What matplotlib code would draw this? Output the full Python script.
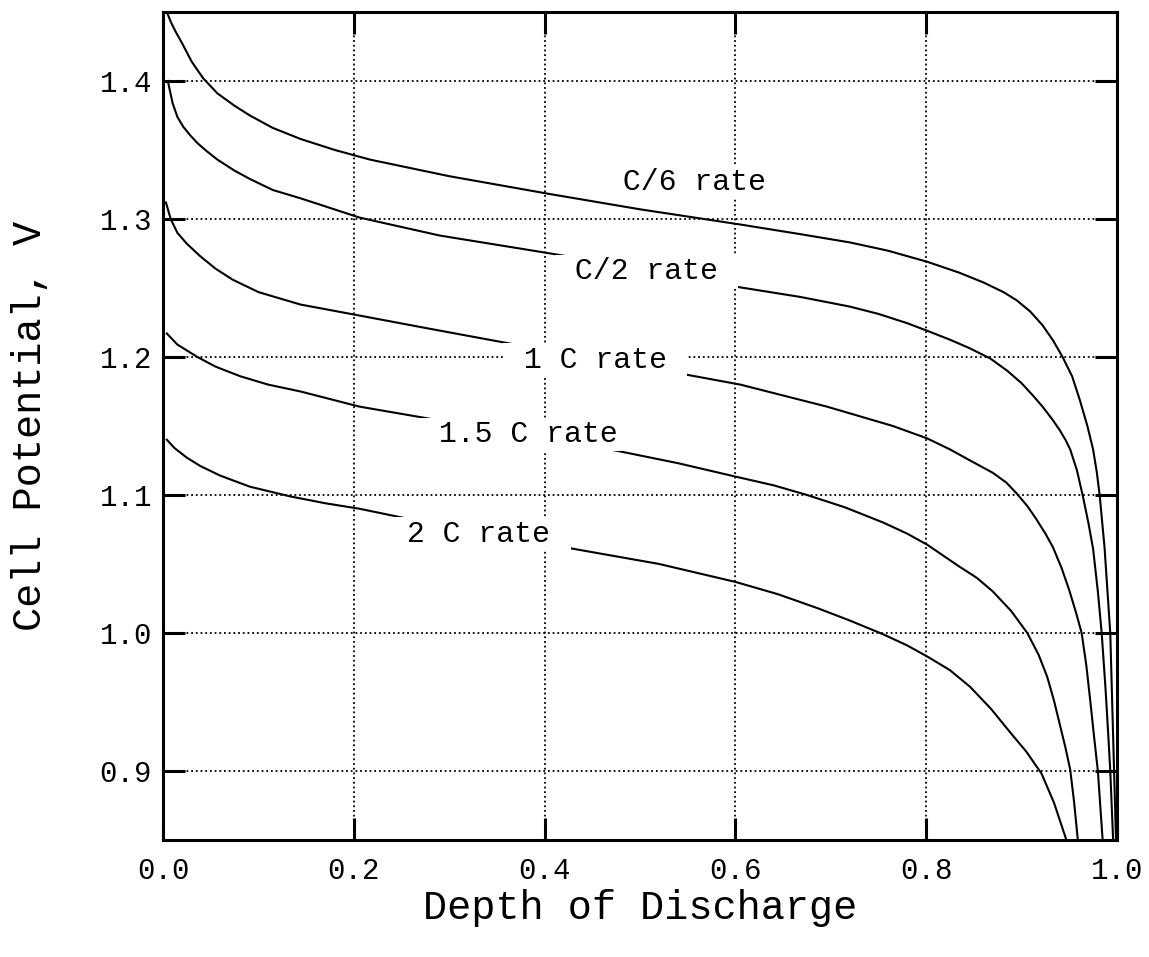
import matplotlib
matplotlib.use("Agg")
import matplotlib.pyplot as plt

# discharge curves: depth of discharge vs. cell potential (V)
dod_c6 = [0.004, 0.008, 0.013, 0.021, 0.030, 0.042, 0.057, 0.075, 0.091, 0.115, 0.144,
          0.18, 0.217, 0.30, 0.406, 0.50, 0.605, 0.668, 0.72, 0.76, 0.801, 0.835, 0.860,
          0.881, 0.895, 0.909, 0.922, 0.933, 0.943, 0.953, 0.961, 0.969, 0.975, 0.979,
          0.982, 0.987, 0.990, 0.993, 0.995, 0.997, 0.999]
v_c6 = [1.450, 1.443, 1.436, 1.426, 1.414, 1.402, 1.391, 1.382, 1.375, 1.366, 1.358,
        1.350, 1.343, 1.331, 1.318, 1.307, 1.296, 1.289, 1.283, 1.277, 1.269, 1.261, 1.254,
        1.247, 1.241, 1.233, 1.223, 1.212, 1.200, 1.186, 1.169, 1.150, 1.133, 1.116,
        1.099, 1.062, 1.031, 1.000, 0.950, 0.900, 0.850]

dod_c2 = [0.005, 0.010, 0.015, 0.021, 0.028, 0.036, 0.046, 0.057, 0.075, 0.091, 0.115,
          0.144, 0.175, 0.206, 0.290, 0.406, 0.50, 0.600, 0.668, 0.720, 0.75, 0.78, 0.801,
          0.825, 0.845, 0.867, 0.885, 0.900, 0.912, 0.922, 0.932, 0.940, 0.946, 0.951,
          0.958, 0.964, 0.970, 0.975, 0.980, 0.984, 0.988, 0.991, 0.993, 0.996]
v_c2 = [1.400, 1.384, 1.374, 1.367, 1.361, 1.355, 1.349, 1.343, 1.335, 1.329, 1.321,
        1.315, 1.308, 1.301, 1.288, 1.275, 1.264, 1.251, 1.2435, 1.2365, 1.2312, 1.2245,
        1.219, 1.2125, 1.2065, 1.199, 1.190, 1.181, 1.172, 1.164, 1.155, 1.147, 1.140,
        1.133, 1.118, 1.100, 1.080, 1.061, 1.030, 1.000, 0.960, 0.925, 0.900, 0.850]

dod_1c = [0.003, 0.008, 0.015, 0.025, 0.039, 0.055, 0.073, 0.10, 0.144, 0.206, 0.283,
          0.377, 0.46, 0.550, 0.605, 0.696, 0.765, 0.801, 0.825, 0.846, 0.870, 0.884,
          0.895, 0.906, 0.915, 0.925, 0.933, 0.942, 0.950, 0.957, 0.963, 0.968, 0.972,
          0.976, 0.980, 0.985]
v_1c = [1.312, 1.300, 1.290, 1.282, 1.273, 1.264, 1.256, 1.247, 1.238, 1.230, 1.220,
        1.208, 1.198, 1.187, 1.180, 1.164, 1.150, 1.141, 1.133, 1.125, 1.116, 1.109,
        1.101, 1.092, 1.083, 1.072, 1.062, 1.047, 1.031, 1.015, 1.000, 0.976, 0.951,
        0.925, 0.900, 0.850]

dod_15c = [0.004, 0.015, 0.036, 0.055, 0.081, 0.11, 0.144, 0.206, 0.290, 0.38, 0.476,
           0.54, 0.602, 0.64, 0.675, 0.715, 0.755, 0.78, 0.801, 0.835, 0.853, 0.870,
           0.889, 0.906, 0.918, 0.927, 0.934, 0.940, 0.946, 0.951, 0.955, 0.959]
v_15c = [1.217, 1.209, 1.200, 1.193, 1.186, 1.180, 1.175, 1.164, 1.154, 1.143, 1.132,
         1.123, 1.113, 1.107, 1.100, 1.091, 1.080, 1.072, 1.064, 1.048, 1.040, 1.030,
         1.016, 1.000, 0.984, 0.968, 0.951, 0.934, 0.917, 0.901, 0.878, 0.850]

dod_2c = [0.004, 0.012, 0.025, 0.039, 0.06, 0.091, 0.133, 0.17, 0.206, 0.248, 0.33,
          0.43, 0.52, 0.60, 0.645, 0.686, 0.72, 0.755, 0.78, 0.801, 0.825, 0.846, 0.868,
          0.888, 0.905, 0.921, 0.934, 0.947]
v_2c = [1.140, 1.134, 1.127, 1.121, 1.114, 1.106, 1.099, 1.094, 1.090, 1.084, 1.073,
        1.061, 1.050, 1.037, 1.028, 1.018, 1.009, 0.999, 0.991, 0.983, 0.973, 0.961, 0.945,
        0.928, 0.914, 0.898, 0.877, 0.850]

curves = [(dod_c6, v_c6), (dod_c2, v_c2), (dod_1c, v_1c), (dod_15c, v_15c), (dod_2c, v_2c)]

# curve labels and where they sit
label_text = ["C/6 rate", "C/2 rate", "1 C rate", "1.5 C rate", "2 C rate"]
label_x = [0.557, 0.507, 0.453, 0.383, 0.331]
label_y = [1.327, 1.262, 1.198, 1.144, 1.072]

x_ticks = [0.0, 0.2, 0.4, 0.6, 0.8, 1.0]
x_ticklabels = ["0.0", "0.2", "0.4", "0.6", "0.8", "1.0"]
y_ticks = [0.9, 1.0, 1.1, 1.2, 1.3, 1.4]
y_ticklabels = ["0.9", "1.0", "1.1", "1.2", "1.3", "1.4"]

plt.rcParams['font.family'] = ['Liberation Mono', 'DejaVu Sans Mono']

fig = plt.figure(figsize=(11.49, 9.57), dpi=100)
ax = fig.add_axes([0.1419, 0.1223, 0.8302, 0.8652])

for x, y in curves:
    ax.plot(x, y, color='black', lw=1.5, zorder=2, solid_joinstyle='round')

# white boxes behind the labels break the curves and grid lines
for txt, tx, ty in zip(label_text, label_x, label_y):
    ax.text(tx, ty, " " + txt + " ", fontsize=21.5, ha='center', va='center', zorder=3,
            bbox=dict(boxstyle='square,pad=0.08', facecolor='white', edgecolor='none'))

ax.set_xlim(0, 1.0)
ax.set_ylim(0.85, 1.45)
ax.set_xticks(x_ticks)
ax.set_xticklabels(x_ticklabels)
ax.set_yticks(y_ticks)
ax.set_yticklabels(y_ticklabels)

ax.grid(True, color='black', linestyle=(0, (1, 1.6)), lw=1.3)
ax.tick_params(direction='in', length=16, width=2.2, labelsize=21,
               top=True, right=True)
ax.tick_params(axis='x', pad=12)
ax.tick_params(axis='y', pad=8)
for s in ax.spines.values():
    s.set_linewidth(2.2)

ax.set_xlabel("Depth of Discharge", fontsize=29, labelpad=3)
ax.set_ylabel("Cell Potential, V", fontsize=29, labelpad=36)

fig.savefig("out.png", dpi=100)
